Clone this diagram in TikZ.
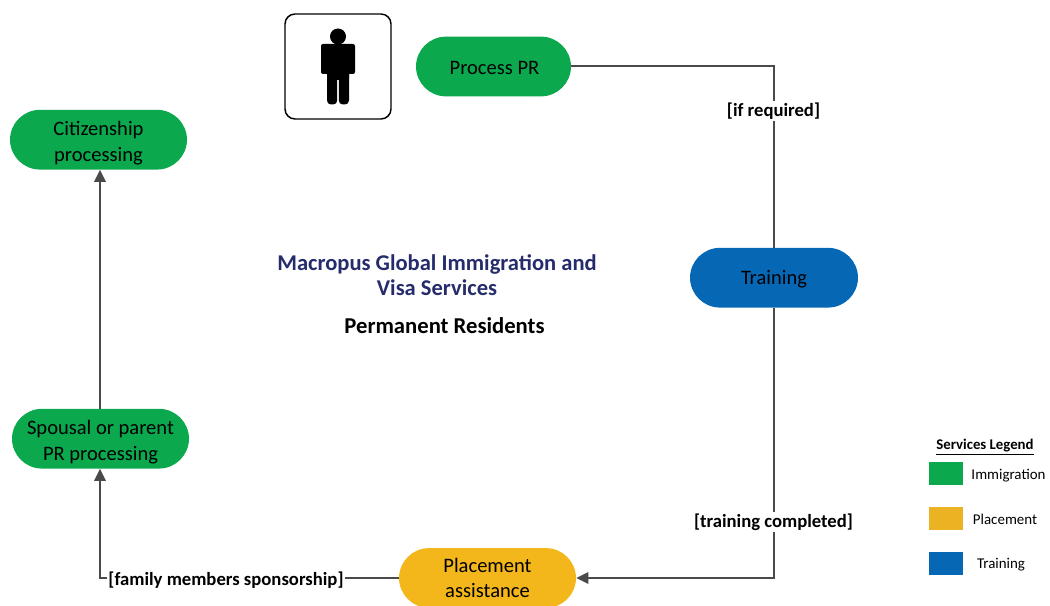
\documentclass[tikz,border=0pt]{standalone}
\usepackage{fontspec}
\setmainfont{Carlito}
\usetikzlibrary{arrows.meta}
\definecolor{immig}{HTML}{0BA84E}
\definecolor{place}{HTML}{F4B71B}
\definecolor{train}{HTML}{0667B5}
\definecolor{lineg}{HTML}{4A4A4A}
\definecolor{navy}{HTML}{262C6B}
\tikzset{
  x=0.75pt,y=-0.75pt,
  pill/.style={rounded corners=22.5pt,minimum height=44.8pt,inner sep=0pt,align=center,font=\fontsize{15.4}{19.1}\selectfont,text=black},
  conn/.style={draw=lineg,line width=1.5pt},
  arr/.style={conn,-{Triangle[length=9pt,width=8.5pt]}},
  lab/.style={fill=white,inner sep=1pt,font=\fontsize{14}{16}\selectfont\bfseries,text=black},
  swatch/.style={minimum width=25.5pt,minimum height=17.25pt,inner sep=0pt},
  legtext/.style={font=\fontsize{11.2}{13}\selectfont,text=black,inner sep=0pt},
}
\begin{document}
\begin{tikzpicture}
\useasboundingbox (0,0) rectangle (1050,606);
\node[pill,fill=immig,minimum width=116.25pt] (pr) at (493.5,66.5) {\rule{0pt}{12.5pt}\hspace{1.5pt}Process PR};
\node[pill,fill=immig,minimum width=132.75pt] (cit) at (98.5,139.7) {\rule{0pt}{15.5pt}Citizenship\\processing};
\node[pill,fill=train,minimum width=126pt] (tr) at (774,277.7) {\rule{0pt}{13pt}Training};
\node[pill,fill=immig,minimum width=132.75pt] (sp) at (100.5,438.7) {\rule{0pt}{15.5pt}Spousal or parent\\PR processing};
\node[pill,fill=place,minimum width=132.75pt] (pl) at (487.5,578) {Placement\hspace{3pt}\\assistance\hspace{3pt}};
% connectors
\coordinate (c1) at (tr.north |- pr.east);
\coordinate (c2) at (tr.south |- pl.east);
\coordinate (c3) at (100,578);
\draw[conn] (pr.east) -- (c1) -- (tr.north);
\node[lab] (l1) at (773.5,111) {[if required]};
\draw[arr] (tr.south) -- (c2) -- (pl.east);
\node[lab] (l2) at (773.5,522) {[training completed]};
\draw[arr] (pl.west) -- (c3) -- (c3 |- sp.south);
\node[lab] (l3) at (226,580) {[family members sponsorship]};
\draw[arr] (c3 |- sp.north) -- (c3 |- cit.south);
% person
\node[draw=black,line width=1.1pt,rounded corners=7.5pt,minimum width=79.5pt,minimum height=78.75pt,inner sep=0pt] (box) at (338,66.5) {};
\fill[black] (338,36.5) circle[radius=8];
\fill[black,rounded corners=1.5pt] (321,44) rectangle (355,74);
\fill[black,rounded corners=1.5pt] (327,60) rectangle (349,80);
\fill[black,rounded corners=3pt] (327,70) rectangle (337.2,104.5);
\fill[black,rounded corners=3pt] (338.8,70) rectangle (349,104.5);
% title
\node[font=\fontsize{16.9}{19.1}\selectfont\bfseries,text=navy,align=center,inner sep=0pt] (t1) at (437,275) {Macropus Global Immigration and\\Visa Services};
\node[font=\fontsize{17}{20}\selectfont\bfseries,text=black,inner sep=0pt] (t2) at (444.5,325.5) {Permanent Residents};
% legend
\node[font=\fontsize{11.1}{13}\selectfont\bfseries,text=black,inner sep=0pt] (lt) at (985,447) {\underline{Services Legend}};
\node[swatch,fill=immig] (s1) at (946,473.5) {};
\node[swatch,fill=place!92!gray] (s2) at (946,518.5) {};
\node[swatch,fill=train] (s3) at (946,563.5) {};
\node[legtext] (n1) at (1008.5,475.5) {Immigration};
\node[legtext] (n2) at (1005,519.5) {Placement};
\node[legtext] (n3) at (1001,564.5) {Training};
\end{tikzpicture}
\end{document}
